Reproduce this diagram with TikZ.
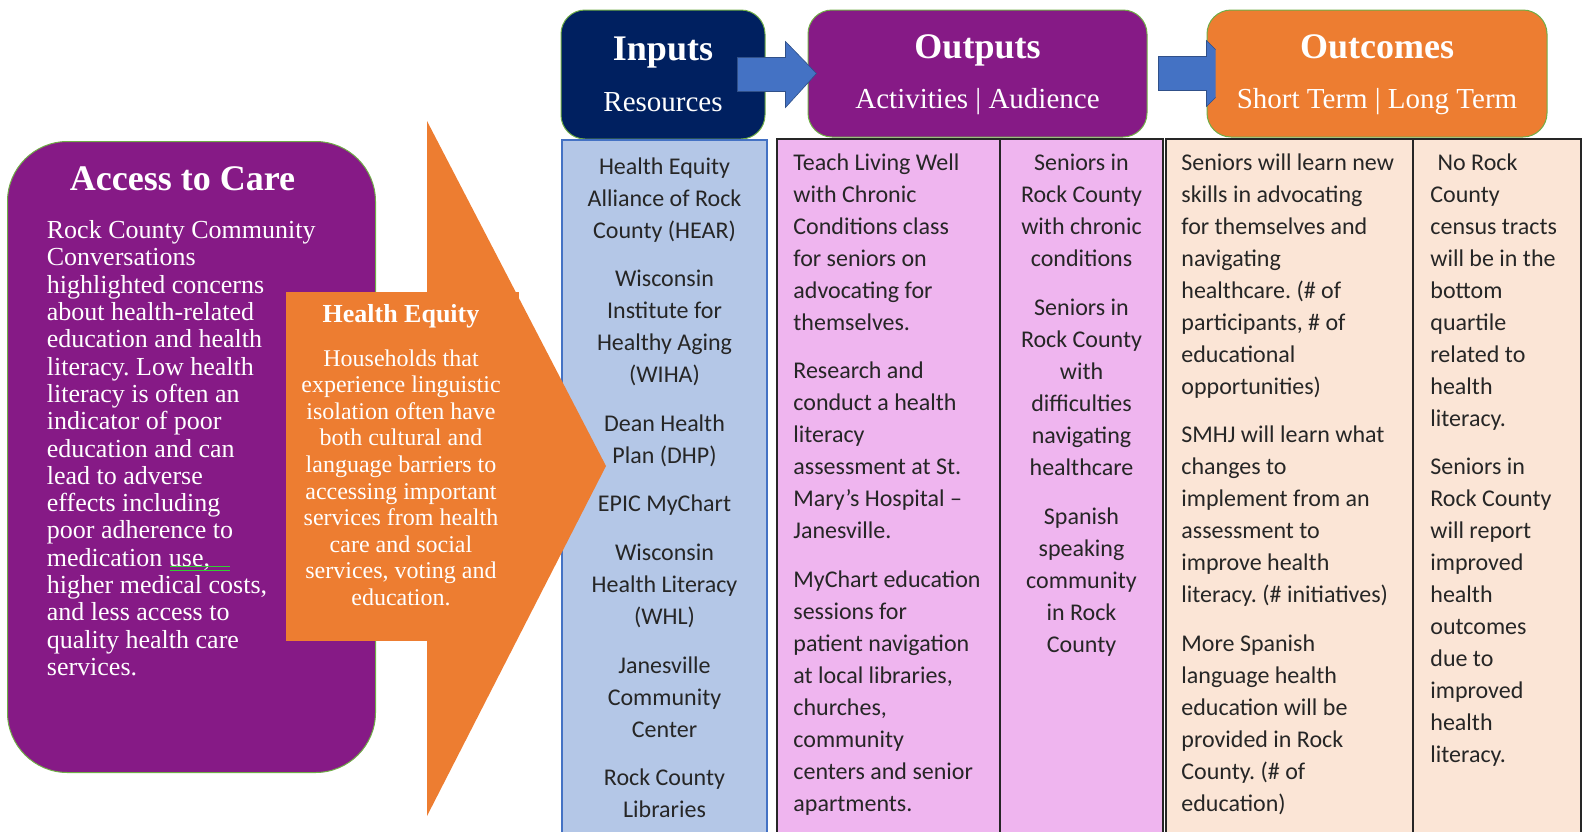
\documentclass[tikz,border=0pt]{standalone}
\usepackage{fontspec}
\setmainfont{Liberation Serif}
\newfontfamily\calibri{Carlito}
\usetikzlibrary{positioning,calc}
\frenchspacing

\definecolor{carepurple}{HTML}{861A86}
\definecolor{navy}{HTML}{002060}
\definecolor{carrot}{HTML}{ED7D31}
\definecolor{blockblue}{HTML}{4472C4}
\definecolor{resblue}{HTML}{B4C7E7}
\definecolor{outpink}{HTML}{EFB5EF}
\definecolor{peach}{HTML}{FBE5D6}
\definecolor{rimgreen}{HTML}{70AD47}
\definecolor{squiggle}{HTML}{33CC33}
\definecolor{ink}{HTML}{262626}

\tikzset{
  headbox/.style={draw=rimgreen, line width=0.5pt, rounded corners=12pt, inner sep=0pt},
  blockarrow/.style={fill=blockblue, draw=blockblue!70!black, line width=0.3pt},
  column/.style={draw=black!85, line width=0.9pt, inner sep=0pt, outer sep=0pt, anchor=north west, minimum height=350pt},
  cell/.style={inner sep=0pt, anchor=north, text=ink, font=\calibri\fontsize{12}{16}\selectfont},
  headtitle/.style={inner sep=0pt, anchor=base, text=white, font=\fontsize{18}{20}\selectfont\bfseries},
  headsub/.style={inner sep=0pt, anchor=base, text=white, font=\fontsize{14.5}{16}\selectfont},
  lighttext/.style={inner sep=0pt, text=white},
}

\begin{document}
\begin{tikzpicture}[x=0.5pt,y=-0.5pt]
\useasboundingbox (0,0) rectangle (1583,831);

% Access to Care panel
\node[headbox, fill=carepurple, rounded corners=30pt, minimum width=184pt, minimum height=315.5pt, anchor=north west] (care) at (7,141) {};
\node[lighttext, anchor=base, font=\fontsize{18}{20}\selectfont\bfseries] (caretitle) at ($(care.north)+(-9,49)$) {Access to Care};
\node[lighttext, anchor=north west, align=left, font=\fontsize{13}{13.66}\selectfont] (caretext) at ($(care.north west)+(39.5,79)$)
  {Rock County Community\\ Conversations\\ highlighted concerns\\ about health-related\\ education and health\\
   literacy. Low health\\ literacy is often an\\ indicator of poor\\ education and can\\ lead to adverse\\
   effects including\\ poor adherence to\\ medication use,\\ higher medical costs,\\ and less access to\\
   quality health care\\ services.};
\draw[squiggle, line width=0.5pt] (170,566.5) -- (230,566.5) (170,570) -- (230,570);

% headers
\node[headbox, fill=navy, minimum width=102pt, minimum height=64.5pt] (inputs) at (663,74.5) {};
\node[headbox, fill=carepurple, minimum width=169.5pt, minimum height=63.5pt] (outputs) at (977.5,73.5) {};
\node[headbox, fill=carrot, minimum width=170pt, minimum height=63.5pt] (outcomes) at (1377,73.5) {};

\node[headtitle] (inputstitle) at ($(inputs.north)+(0,51)$) {Inputs};
\node[headsub] (inputssub) at ($(inputs.north)+(0,102)$) {Resources};
\node[headtitle] (outputstitle) at ($(outputs.north)+(0,49)$) {Outputs};
\node[headsub] (outputssub) at ($(outputs.north)+(0,99)$) {Activities \textbar\ Audience};
\node[headtitle] (outcomestitle) at ($(outcomes.north)+(0,49)$) {Outcomes};
\node[headsub] (outcomessub) at ($(outcomes.north)+(0,99)$) {Short Term \textbar\ Long Term};

% block arrows
\filldraw[blockarrow] ($(inputs.east)+(-28,-17)$) -- ++(48,0) -- ++(0,-16) -- ($(outputs.west)+(9,0)$)
  -- ($(inputs.east)+(20,33)$) -- ++(0,-16) -- ++(-48,0) -- cycle;
\begin{scope}
  \clip ($(outputs.east)+(0,-60)$) rectangle ($(outcomes.west)+(9,60)$);
  \filldraw[blockarrow] ($(outputs.east)+(11,-17)$) -- ($(outcomes.west)+(0,-17)$) -- ($(outcomes.west)+(0,-33)$)
    -- ($(outcomes.west)+(33,0)$) -- ($(outcomes.west)+(0,33)$) -- ($(outcomes.west)+(0,17)$)
    -- ($(outputs.east)+(11,17)$) -- cycle;
\end{scope}

% columns
\node[column, draw=blockblue, line width=0.8pt, fill=resblue, minimum width=102.5pt] (rescol) at (562,140) {};
\node[column, fill=outpink, minimum width=111.5pt] (actcol) at (777,139) {};
\node[column, fill=outpink, minimum width=81.5pt] (audcol) at (actcol.north east) {};
\node[column, fill=peach, minimum width=123.5pt] (shortcol) at (1166,139) {};
\node[column, fill=peach, minimum width=84pt] (longcol) at (shortcol.north east) {};

\node[cell, align=center] (restext) at ($(rescol.north)+(0,17)$)
  {Health Equity\\ Alliance of Rock\\ County (HEAR)\\[8.3pt]
   Wisconsin\\ Institute for\\ Healthy Aging\\ (WIHA)\\[8.3pt]
   Dean Health\\ Plan (DHP)\\[8.3pt]
   EPIC MyChart\\[8.3pt]
   Wisconsin\\ Health Literacy\\ (WHL)\\[8.3pt]
   Janesville\\ Community\\ Center\\[8.3pt]
   Rock County\\ Libraries};
\node[cell, anchor=north west, align=left] (acttext) at ($(actcol.north west)+(16,14)$)
  {Teach Living Well\\ with Chronic\\ Conditions class\\ for seniors on\\ advocating for\\ themselves.\\[8.3pt]
   Research and\\ conduct a health\\ literacy\\ assessment at St.\\ Mary’s Hospital –\\ Janesville.\\[8.3pt]
   MyChart education\\ sessions for\\ patient navigation\\ at local libraries,\\ churches,\\ community\\
   centers and senior\\ apartments.};
\node[cell, align=center] (audtext) at ($(audcol.north)+(0,15)$)
  {Seniors in\\ Rock County\\ with chronic\\ conditions\\[8.3pt]
   Seniors in\\ Rock County\\ with\\ difficulties\\ navigating\\ healthcare\\[8.3pt]
   Spanish\\ speaking\\ community\\ in Rock\\ County};
\node[cell, anchor=north west, align=left] (shorttext) at ($(shortcol.north west)+(15,14)$)
  {Seniors will learn new\\ skills in advocating\\ for themselves and\\ navigating\\ healthcare. (\# of\\
   participants, \# of\\ educational\\ opportunities)\\[8.3pt]
   SMHJ will learn what\\ changes to\\ implement from an\\ assessment to\\ improve health\\
   literacy. (\# initiatives)\\[8.3pt]
   More Spanish\\ language health\\ education will be\\ provided in Rock\\ County. (\# of\\ education)};
\node[cell, anchor=north west, align=left] (longtext) at ($(longcol.north west)+(17,14)$)
  {\hspace*{0.3em}No Rock\\ County\\ census tracts\\ will be in the\\ bottom\\ quartile\\ related to\\ health\\ literacy.\\[8.3pt]
   Seniors in\\ Rock County\\ will report\\ improved\\ health\\ outcomes\\ due to\\ improved\\ health\\ literacy.};

% Health Equity arrow, lying over the first column
\fill[carrot] (286,292) rectangle (519,400);
\fill[carrot] (286,400) rectangle (450,641);
\fill[carrot] (427,121) coordinate (headtop) -- (606,466) coordinate (headtip) -- (427,816) coordinate (headbot) -- cycle;
\node[lighttext, anchor=base, font=\fontsize{13}{15}\selectfont\bfseries] (equitytitle) at (401,322.5) {Health Equity};
\node[lighttext, anchor=north, align=center, font=\fontsize{12}{13.3}\selectfont] (equitytext) at ($(equitytitle.base)+(0,26.5)$)
  {Households that\\ experience linguistic\\ isolation often have\\ both cultural and\\ language barriers to\\
   accessing important\\ services from health\\ care and social\\ services, voting and\\ education.};
\end{tikzpicture}
\end{document}
